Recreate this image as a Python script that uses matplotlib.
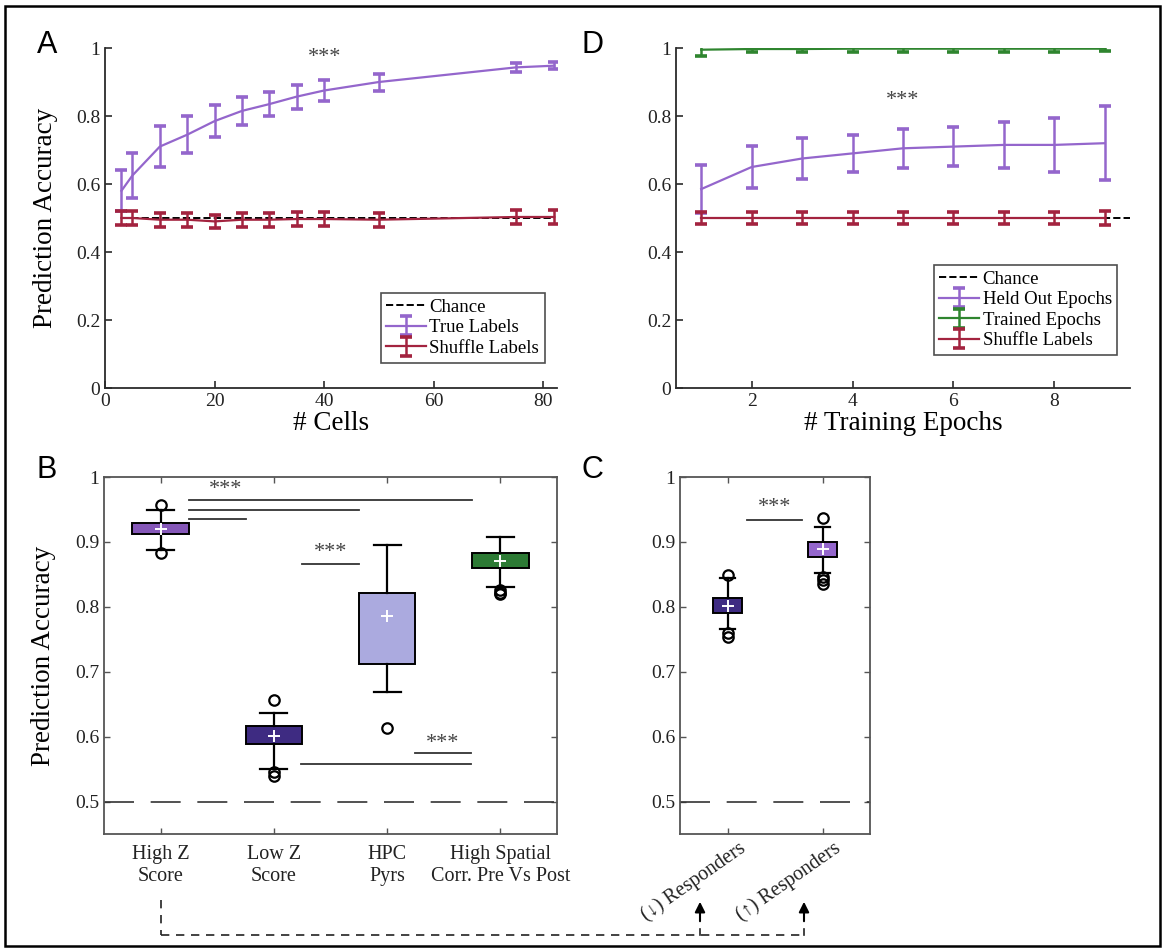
import numpy as np
import matplotlib
matplotlib.use("Agg")
import matplotlib.pyplot as plt
from matplotlib.lines import Line2D
from matplotlib.patches import FancyArrowPatch, Rectangle
from matplotlib.ticker import FormatStrFormatter
import matplotlib.transforms as mtransforms

plt.rcParams["font.family"] = ["Liberation Serif", "DejaVu Serif"]

# =========================
# Panel A data
# =========================
n_cells = [3, 5, 10, 15, 20, 25, 30, 35, 40, 50, 75, 82]
true_mean = [0.58, 0.625, 0.71, 0.745, 0.785, 0.815, 0.835, 0.857, 0.875, 0.90, 0.943, 0.948]
true_err = [0.06, 0.065, 0.06, 0.055, 0.047, 0.04, 0.035, 0.035, 0.03, 0.025, 0.013, 0.01]
shuf_a_mean = [0.50, 0.50, 0.495, 0.495, 0.49, 0.495, 0.495, 0.497, 0.497, 0.495, 0.503, 0.503]
shuf_a_err = [0.02, 0.02, 0.02, 0.02, 0.02, 0.02, 0.02, 0.02, 0.02, 0.02, 0.02, 0.02]
chance = 0.5

# =========================
# Panel D data
# =========================
epochs = [1, 2, 3, 4, 5, 6, 7, 8, 9]
held_mean = [0.585, 0.65, 0.675, 0.69, 0.705, 0.71, 0.715, 0.715, 0.72]
held_err = [0.07, 0.062, 0.06, 0.055, 0.057, 0.058, 0.067, 0.079, 0.109]
trained_mean = [0.995, 0.997, 0.997, 0.998, 0.998, 0.998, 0.998, 0.998, 0.998]
trained_err = [0.018, 0.009, 0.009, 0.009, 0.009, 0.009, 0.009, 0.009, 0.008]
shuf_d_mean = [0.50, 0.50, 0.50, 0.50, 0.50, 0.50, 0.50, 0.50, 0.50]
shuf_d_err = [0.017, 0.017, 0.017, 0.017, 0.017, 0.017, 0.018, 0.018, 0.02]

# =========================
# Panel B data (box stats)
# =========================
b_labels = ["High Z\nScore", "Low Z\nScore", "HPC\nPyrs", "High Spatial\nCorr. Pre Vs Post"]
b_med = [0.92, 0.60, 0.785, 0.87]
b_q1 = [0.912, 0.588, 0.712, 0.860]
b_q3 = [0.929, 0.616, 0.822, 0.883]
b_whislo = [0.888, 0.550, 0.668, 0.831]
b_whishi = [0.949, 0.637, 0.895, 0.908]
b_mean = [0.92, 0.601, 0.786, 0.871]
b_fliers = [[0.957, 0.883], [0.656, 0.545, 0.539], [0.613], [0.826, 0.822, 0.819]]

# =========================
# Panel C data (box stats)
# =========================
c_labels = ["(\u2193) Responders", "(\u2191) Responders"]
c_med = [0.80, 0.89]
c_q1 = [0.791, 0.877]
c_q3 = [0.814, 0.900]
c_whislo = [0.766, 0.852]
c_whishi = [0.845, 0.923]
c_mean = [0.802, 0.889]
c_fliers = [[0.849, 0.760, 0.753], [0.937, 0.846, 0.841, 0.835]]

# =========================
# Colours
# =========================
PURPLE = "#9466cc"
MAROON = "#a3233f"
GREEN = "#2f852f"
b_colors = ["#8557b8", "#3e2b82", "#abaadf", "#2c7a34"]
c_colors = ["#3e2b82", "#9466cc"]
AXC = "#2b2b2b"

W, H = 1163, 950
fig = plt.figure(figsize=(W / 100, H / 100), dpi=100)

TICK_FS = 14
LABEL_FS = 19.5
STAR_FS = 16
LEG_FS = 13.5


def px_axes(x0, y0, x1, y1):
    return fig.add_axes([x0 / W, 1 - y1 / H, (x1 - x0) / W, (y1 - y0) / H])


def style_open(ax):
    for s in ["top", "right"]:
        ax.spines[s].set_visible(False)
    for s in ["left", "bottom"]:
        ax.spines[s].set_color(AXC)
        ax.spines[s].set_linewidth(1.3)
    ax.tick_params(direction="in", length=5, width=1.2, colors=AXC,
                   labelsize=TICK_FS, labelcolor="#222")


def style_box(ax):
    for s in ax.spines.values():
        s.set_color("#555")
        s.set_linewidth(1.3)
    ax.tick_params(direction="in", length=4, width=1.0, colors="#555",
                   labelsize=TICK_FS, labelcolor="#222", top=True, right=True)


eb_kw = dict(capsize=4, capthick=2.6, elinewidth=1.8, lw=1.6)
leg_kw = dict(loc="lower right", fontsize=LEG_FS, frameon=True, fancybox=False,
              edgecolor="#222", handlelength=2.1, handletextpad=0.2,
              borderpad=0.3, labelspacing=0.18, borderaxespad=0)

# =========================
# Panel A
# =========================
ax_a = px_axes(105, 48, 557, 388)
style_open(ax_a)
ax_a.plot(n_cells, [chance] * len(n_cells), "--", color="black", lw=1.4,
          label="Chance")
ax_a.errorbar(n_cells, true_mean, yerr=true_err, color=PURPLE,
              label="True Labels", **eb_kw)
ax_a.errorbar(n_cells, shuf_a_mean, yerr=shuf_a_err, color=MAROON,
              label="Shuffle Labels", **eb_kw)
ax_a.set_xlim(0, 82.5)
ax_a.set_ylim(0, 1)
ax_a.set_xticks([0, 20, 40, 60, 80])
ax_a.set_yticks([0, 0.2, 0.4, 0.6, 0.8, 1])
ax_a.yaxis.set_major_formatter(FormatStrFormatter("%g"))
ax_a.set_xlabel("# Cells", fontsize=LABEL_FS, labelpad=1)
ax_a.set_ylabel("Prediction Accuracy", fontsize=LABEL_FS)
ax_a.yaxis.set_label_coords(-0.105, 0.5)
ax_a.text(40, 0.972, "***", ha="center", va="center", fontsize=STAR_FS, color="#444")
leg = ax_a.legend(bbox_to_anchor=(0.973, 0.075), **leg_kw)
leg.get_frame().set_linewidth(1.2)

# =========================
# Panel D
# =========================
ax_d = px_axes(676, 48, 1130, 388)
style_open(ax_d)
ax_d.hlines(chance, epochs[0], 9.5, colors="black", linestyles="--", lw=1.4,
            label="Chance")
ax_d.errorbar(epochs, held_mean, yerr=held_err, color=PURPLE,
              label="Held Out Epochs", **eb_kw)
ax_d.errorbar(epochs, trained_mean, yerr=trained_err, color=GREEN,
              label="Trained Epochs", **eb_kw)
ax_d.errorbar(epochs, shuf_d_mean, yerr=shuf_d_err, color=MAROON,
              label="Shuffle Labels", **eb_kw)
ax_d.set_xlim(0.5, 9.5)
ax_d.set_ylim(0, 1)
ax_d.set_xticks([2, 4, 6, 8])
ax_d.set_yticks([0, 0.2, 0.4, 0.6, 0.8, 1])
ax_d.yaxis.set_major_formatter(FormatStrFormatter("%g"))
ax_d.set_xlabel("# Training Epochs", fontsize=LABEL_FS, labelpad=1)
ax_d.text(5, 0.847, "***", ha="center", va="center", fontsize=STAR_FS, color="#444")
leg = ax_d.legend(bbox_to_anchor=(0.972, 0.097), **leg_kw)
leg.get_frame().set_linewidth(1.2)


def make_stats(labels, med, q1, q3, lo, hi, mean, fliers):
    stats = []
    for i in range(len(labels)):
        stats.append(dict(label=labels[i], med=med[i], q1=q1[i], q3=q3[i],
                          whislo=lo[i], whishi=hi[i], mean=mean[i],
                          fliers=fliers[i]))
    return stats


box_kw = dict(patch_artist=True, showmeans=True,
              boxprops=dict(edgecolor="black", linewidth=1.4),
              whiskerprops=dict(color="black", linewidth=1.6, linestyle="-"),
              capprops=dict(color="black", linewidth=1.6),
              medianprops=dict(linewidth=0),
              meanprops=dict(marker="+", markeredgecolor="white",
                             markersize=9, markeredgewidth=1.4),
              flierprops=dict(marker="o", markerfacecolor="none",
                              markeredgecolor="black", markersize=7.5,
                              markeredgewidth=1.6))

# =========================
# Panel B
# =========================
ax_b = px_axes(104, 477, 557, 834)
style_box(ax_b)
ax_b.axhline(chance, color="#333", lw=1.2, dashes=(18, 10))
bp = ax_b.bxp(make_stats(b_labels, b_med, b_q1, b_q3, b_whislo, b_whishi,
                         b_mean, b_fliers),
              positions=[1, 2, 3, 4], widths=0.5, capwidths=0.24, **box_kw)
for patch, col in zip(bp["boxes"], b_colors):
    patch.set_facecolor(col)
ax_b.set_xlim(0.5, 4.5)
ax_b.set_ylim(0.45, 1)
ax_b.set_yticks([0.5, 0.6, 0.7, 0.8, 0.9, 1])
ax_b.yaxis.set_major_formatter(FormatStrFormatter("%g"))
ax_b.tick_params(axis="x", labelsize=14.5, pad=8)
ax_b.set_ylabel("Prediction Accuracy", fontsize=LABEL_FS)
ax_b.yaxis.set_label_coords(-0.105, 0.5)

# significance bars
sig_lines_b = [(1.25, 3.75, 0.965), (1.25, 2.75, 0.949), (1.25, 1.75, 0.935),
               (2.25, 2.75, 0.866), (3.25, 3.74, 0.575), (2.24, 3.74, 0.558)]
for x0, x1, y in sig_lines_b:
    ax_b.plot([x0, x1], [y, y], color="#333", lw=1.3)
sig_text_b = [(1.57, 0.981), (2.5, 0.884), (3.49, 0.589)]
for x, y in sig_text_b:
    ax_b.text(x, y, "***", ha="center", va="center", fontsize=STAR_FS, color="#444")

# =========================
# Panel C
# =========================
ax_c = px_axes(680, 477, 870, 834)
style_box(ax_c)
ax_c.axhline(chance, color="#333", lw=1.2, dashes=(18, 10))
bp = ax_c.bxp(make_stats(c_labels, c_med, c_q1, c_q3, c_whislo, c_whishi,
                         c_mean, c_fliers),
              positions=[1, 2], widths=0.31, capwidths=0.15, **box_kw)
for patch, col in zip(bp["boxes"], c_colors):
    patch.set_facecolor(col)
ax_c.set_xlim(0.5, 2.5)
ax_c.set_ylim(0.45, 1)
ax_c.set_yticks([0.5, 0.6, 0.7, 0.8, 0.9, 1])
ax_c.yaxis.set_major_formatter(FormatStrFormatter("%g"))
offset = mtransforms.ScaledTranslation(22 / 100, 0, fig.dpi_scale_trans)
for lab in ax_c.get_xticklabels():
    lab.set_rotation(35)
    lab.set_ha("right")
    lab.set_fontsize(14.5)
    lab.set_transform(lab.get_transform() + offset)
ax_c.plot([1.21, 1.78], [0.934, 0.934], color="#333", lw=1.3)
ax_c.text(1.5, 0.953, "***", ha="center", va="center", fontsize=STAR_FS, color="#444")

# =========================
# Panel letters
# =========================
for letter, (px, py) in {"A": (47, 45), "D": (592, 45),
                         "B": (47, 470), "C": (592, 470)}.items():
    fig.text(px / W, 1 - py / H, letter, fontsize=22,
             family="Liberation Sans", ha="center", va="center")

# =========================
# Bottom connector + arrows
# =========================
def fx(p):
    return p / W


def fy(p):
    return 1 - p / H


dash_kw = dict(color="#222", lw=1.2, linestyle=(0, (5, 4)),
               transform=fig.transFigure)
fig.add_artist(Line2D([fx(161), fx(161)], [fy(900), fy(935)], **dash_kw))
fig.add_artist(Line2D([fx(161), fx(804)], [fy(935), fy(935)], **dash_kw))
for ax_px in [700, 804]:
    fig.add_artist(Line2D([fx(ax_px), fx(ax_px)], [fy(935), fy(929)],
                          color="#222", lw=1.2, transform=fig.transFigure))
    fig.add_artist(FancyArrowPatch((fx(ax_px), fy(924)), (fx(ax_px), fy(899)),
                                   transform=fig.transFigure,
                                   arrowstyle="-|>,head_length=6,head_width=3",
                                   color="black", lw=1.5))

# outer frame
fig.add_artist(Rectangle((fx(5), fy(946)), fx(1160) - fx(5), fy(6) - fy(946),
                         transform=fig.transFigure, fill=False,
                         edgecolor="black", lw=1.8))

fig.savefig("out.png", dpi=100)
